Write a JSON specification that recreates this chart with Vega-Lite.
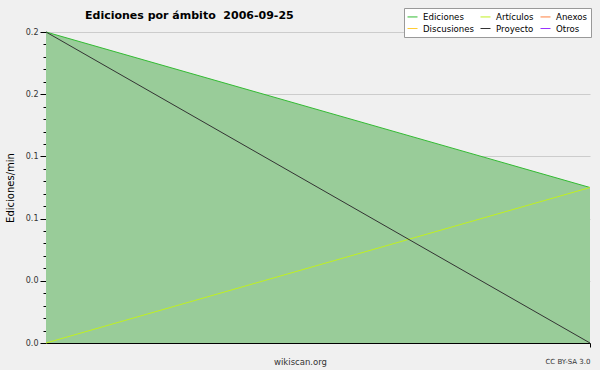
{
  "$schema": "https://vega.github.io/schema/vega-lite/v6.json",
  "width": 544,
  "height": 311,
  "autosize": {"type": "none"},
  "padding": {"left": 46, "top": 32, "right": 10, "bottom": 27},
  "background": "#f0f0f0",
  "config": {
    "font": "DejaVu Sans",
    "view": {"stroke": null}
  },
  "title": {
    "text": "Ediciones por ámbito\u00a0\u00a02006-09-25",
    "anchor": "start",
    "frame": "group",
    "dx": 39,
    "offset": -13,
    "fontSize": 11,
    "fontWeight": "bold",
    "color": "#000000"
  },
  "data": {
    "values": [
      {"t": 0, "serie": "Ediciones", "v": 0.2},
      {"t": 1, "serie": "Ediciones", "v": 0.1},
      {"t": 0, "serie": "Artículos", "v": 0.0},
      {"t": 1, "serie": "Artículos", "v": 0.1},
      {"t": 0, "serie": "Proyecto", "v": 0.2},
      {"t": 1, "serie": "Proyecto", "v": 0.0}
    ]
  },
  "encoding": {
    "x": {
      "field": "t",
      "type": "quantitative",
      "scale": {"domain": [0, 1], "nice": false, "zero": false},
      "axis": {
        "values": [1],
        "labelExpr": "'CC BY-SA 3.0'",
        "labelAlign": "right",
        "labelFontSize": 7,
        "labelColor": "#333333",
        "labelPadding": 10,
        "tickSize": 4,
        "tickColor": "#000000",
        "domainColor": "#000000",
        "grid": false,
        "title": "wikiscan.org",
        "titleFontSize": 8.5,
        "titleFontWeight": "normal",
        "titleColor": "#333333",
        "titleX": 254,
        "titleY": 14
      }
    },
    "y": {
      "field": "v",
      "type": "quantitative",
      "scale": {"domain": [0, 0.2], "nice": false},
      "axis": {
        "values": [0, 0.008, 0.016, 0.024, 0.032, 0.04, 0.048, 0.056, 0.064, 0.072, 0.08, 0.088, 0.096, 0.104, 0.112, 0.12, 0.128, 0.136, 0.144, 0.152, 0.16, 0.168, 0.176, 0.184, 0.192, 0.2],
        "labelExpr": "abs(datum.value*25 - round(datum.value*25)) < 0.001 ? format(datum.value, '.1f') : ''",
        "labelFontSize": 8,
        "labelColor": "#333333",
        "labelPadding": 2,
        "tickSize": {"condition": {"test": "abs(datum.value*25 - round(datum.value*25)) < 0.001", "value": 6}, "value": 3},
        "tickColor": "#000000",
        "domainColor": "#000000",
        "gridColor": "#cccccc",
        "gridOpacity": {"condition": {"test": "abs(datum.value*25 - round(datum.value*25)) < 0.001", "value": 1}, "value": 0},
        "title": "Ediciones/min",
        "titleFontSize": 10,
        "titleFontWeight": "normal",
        "titleColor": "#000000",
        "titlePadding": 10
      }
    }
  },
  "layer": [
    {
      "transform": [{"filter": "datum.serie === 'Ediciones'"}],
      "mark": {"type": "area", "color": "#99cc99", "opacity": 1}
    },
    {
      "mark": {"type": "line", "strokeWidth": 1},
      "encoding": {
        "color": {
          "field": "serie",
          "type": "nominal",
          "scale": {
            "domain": ["Ediciones", "Artículos", "Anexos", "Discusiones", "Proyecto", "Otros"],
            "range": ["#33bb33", "#c0f020", "#ff8040", "#ffcc33", "#333333", "#9933ff"]
          },
          "legend": {
            "title": null,
            "orient": "none",
            "legendX": 358,
            "legendY": -24,
            "columns": 3,
            "direction": "horizontal",
            "symbolType": "stroke",
            "symbolSize": 100,
            "symbolStrokeWidth": 1,
            "labelFontSize": 8.6,
            "labelColor": "#000000",
            "labelOffset": 5,
            "rowPadding": 1,
            "columnPadding": 4,
            "fillColor": "#ffffff",
            "strokeColor": "#999999",
            "padding": 3
          }
        }
      }
    }
  ]
}
